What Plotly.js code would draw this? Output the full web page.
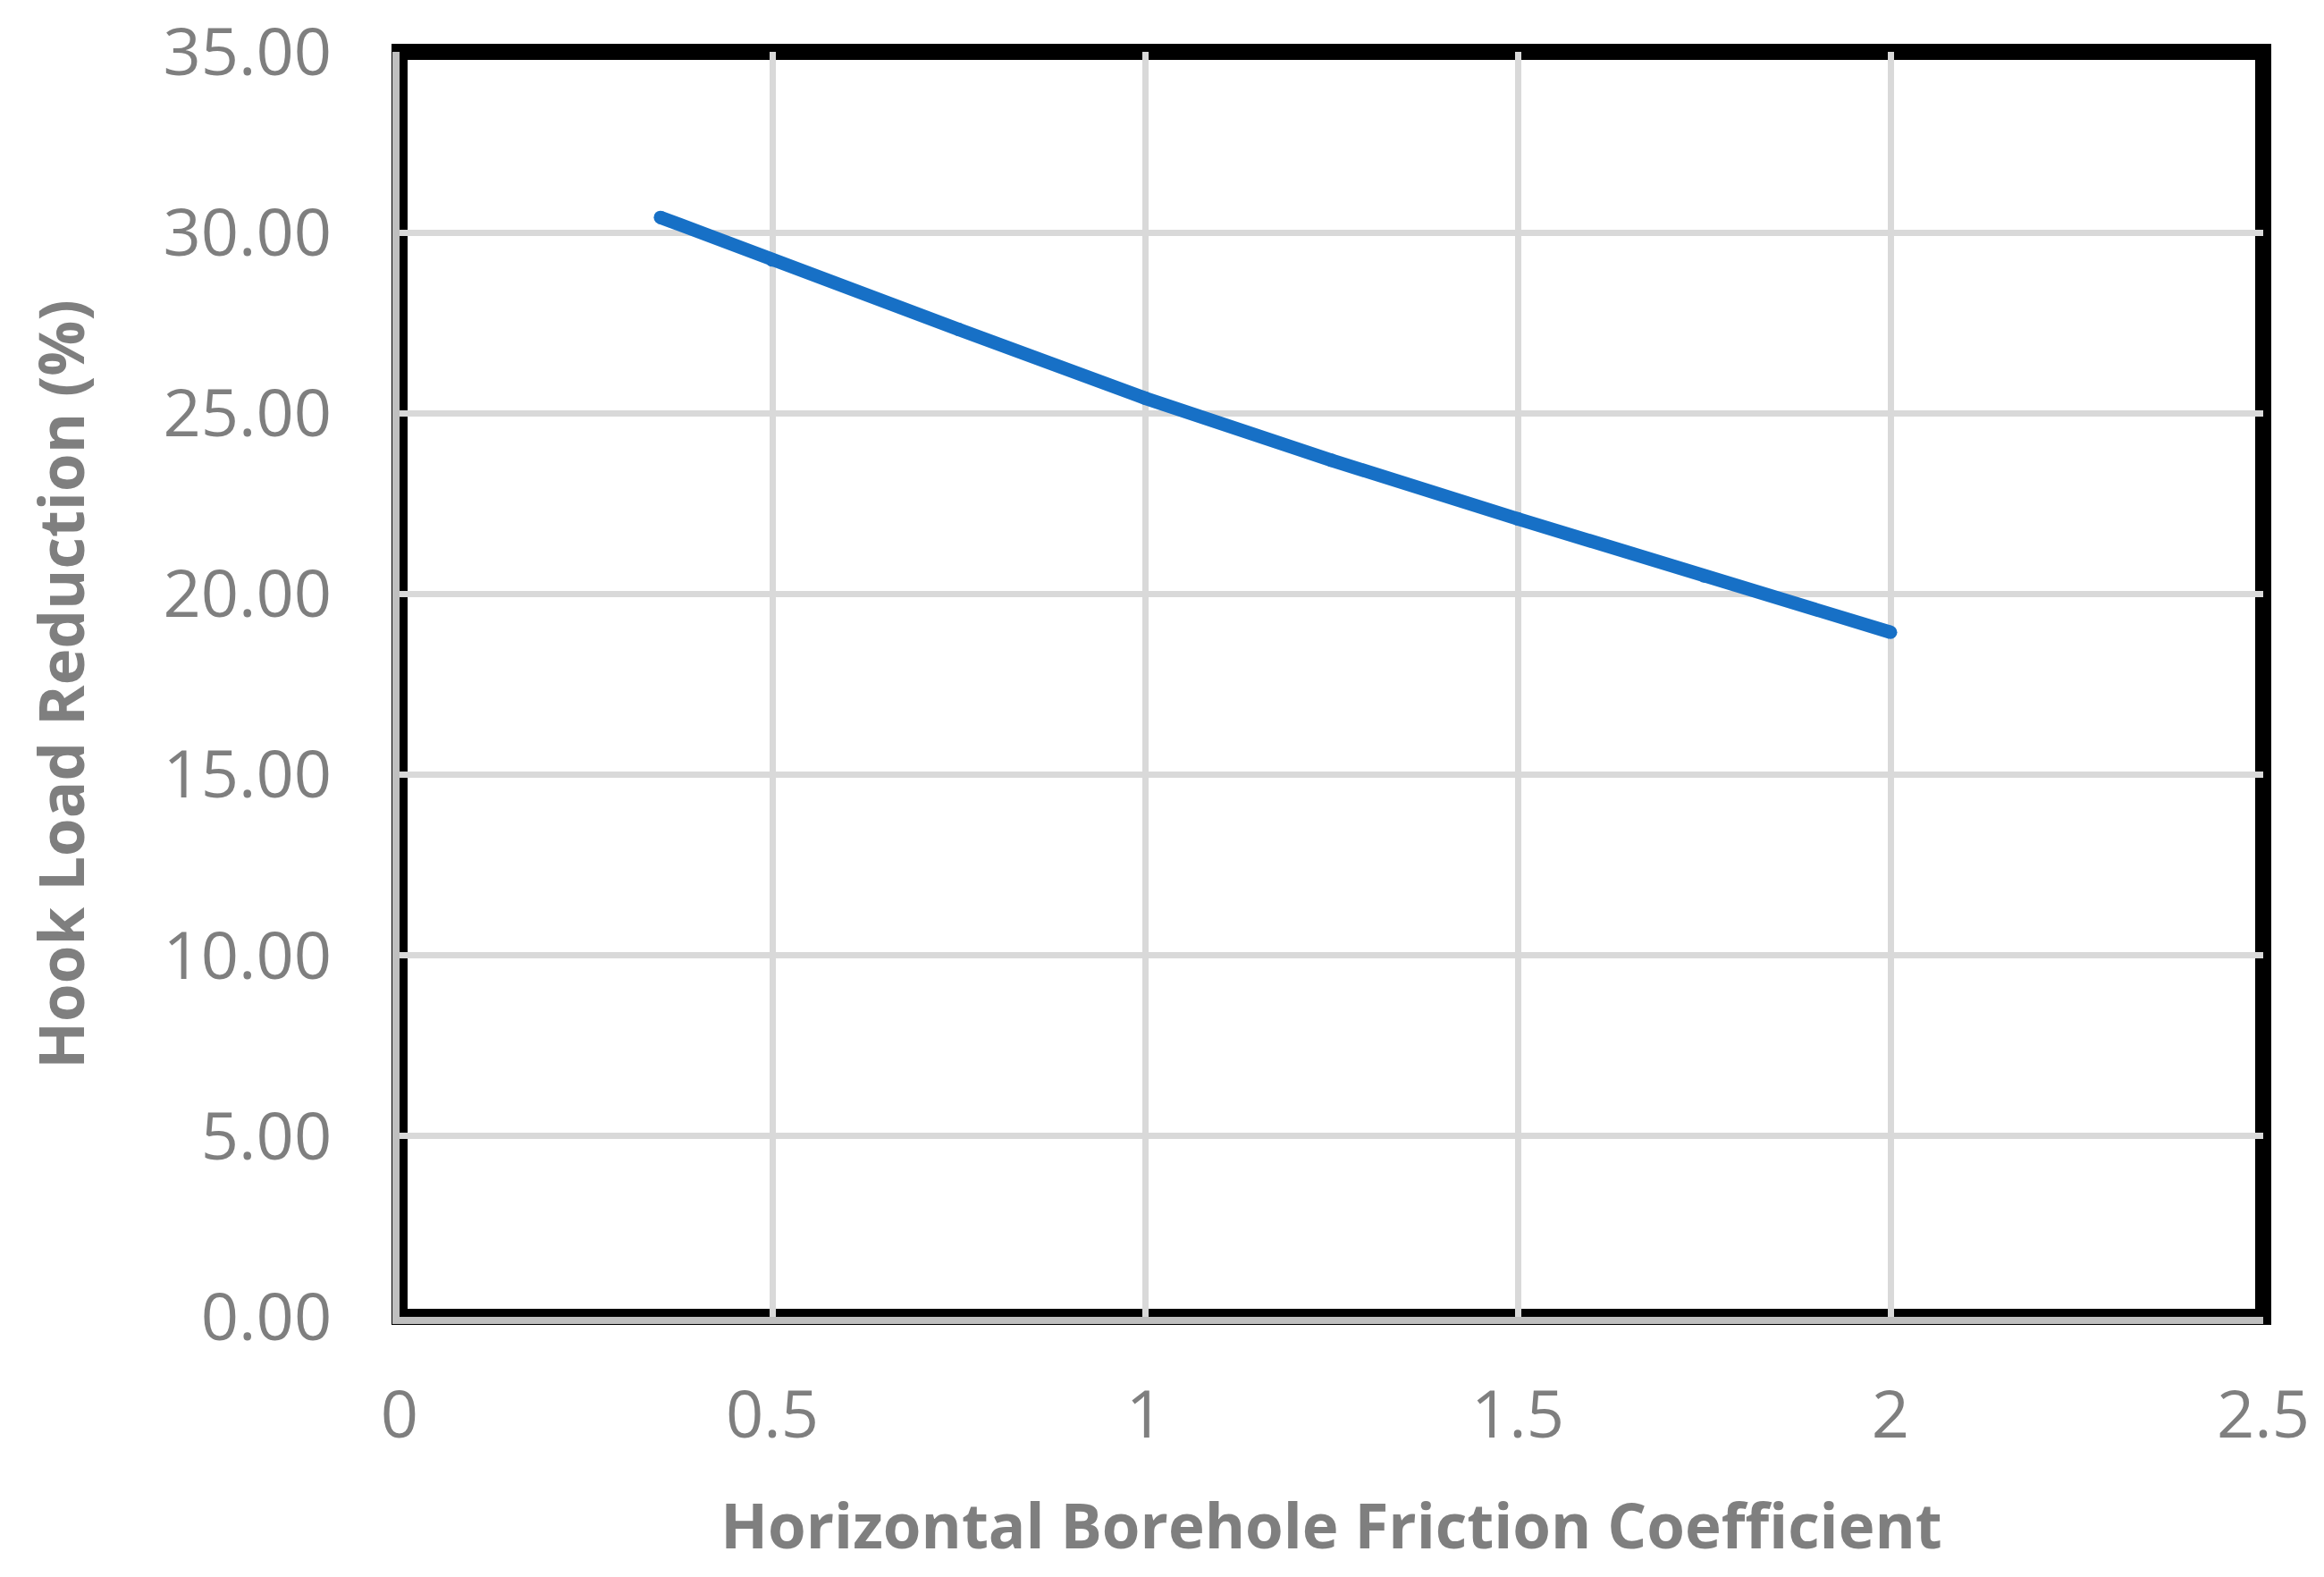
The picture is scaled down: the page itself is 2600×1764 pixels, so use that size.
<!DOCTYPE html>
<html>
<head>
<meta charset="utf-8">
<script src="https://cdn.plot.ly/plotly-3.0.1.min.js"></script>
<style>
  html, body { margin: 0; padding: 0; background: #fff; }
  #chart { width: 2600px; height: 1764px; }
</style>
</head>
<body>
<div id="chart"></div>
<script>
// friction coefficient vs hook load reduction
const frictionCoef = [0.35, 0.5, 0.75, 1.0, 1.25, 1.5, 1.75, 2.0];
const hookLoadReduction = [30.42, 29.24, 27.32, 25.42, 23.70, 22.08, 20.50, 18.94];

const xTickVals = [0, 0.5, 1, 1.5, 2, 2.5];
const xTickText = ['0', '0.5', '1', '1.5', '2', '2.5'];
const yTickVals = [0, 5, 10, 15, 20, 25, 30, 35];

const GREY_TEXT = '#7F7F7F';
const GRID = '#D9D9D9';
const LINE_BLUE = '#1770C6';

const trace = {
  x: frictionCoef,
  y: hookLoadReduction,
  type: 'scatter',
  mode: 'lines+markers',
  line: {color: LINE_BLUE, width: 15},
  marker: {color: LINE_BLUE, size: 15},
  hoverinfo: 'x+y',
  showlegend: false,
};

const tickFont = {family: 'Open Sans, sans-serif', size: 74, color: GREY_TEXT};
const titleFont = {family: 'Open Sans, sans-serif', size: 69, color: GREY_TEXT, weight: 'bold'};

const layout = {
  width: 2600,
  height: 1764,
  margin: {l: 447, r: 68, t: 58, b: 291},
  paper_bgcolor: '#ffffff',
  plot_bgcolor: '#ffffff',
  showlegend: false,
  xaxis: {
    range: [0, 2.5],
    tickvals: xTickVals,
    ticktext: xTickText,
    showgrid: true,
    gridcolor: GRID,
    gridwidth: 7,
    zeroline: false,
    showline: true,
    linecolor: '#BFBFBF',
    linewidth: 8,
    ticks: '',
    ticklabelstandoff: 38,
    tickfont: tickFont,
    automargin: false,
    title: {text: 'Horizontal Borehole Friction Coefficient', font: titleFont, standoff: 58},
  },
  yaxis: {
    range: [0, 35],
    tickvals: yTickVals,
    tickformat: '.2f',
    showgrid: true,
    gridcolor: GRID,
    gridwidth: 7,
    zeroline: false,
    showline: true,
    linecolor: '#BFBFBF',
    linewidth: 8,
    ticks: '',
    ticklabelstandoff: 53,
    tickfont: tickFont,
    automargin: false,
    title: {text: 'Hook Load Reduction (%)', font: titleFont, standoff: 68},
  },
  shapes: [{
    type: 'rect',
    xref: 'paper', yref: 'paper',
    x0: 0, x1: 1, y0: 0, y1: 1,
    line: {color: '#000000', width: 18},
    layer: 'between',
  }],
};

Plotly.newPlot('chart', [trace], layout, {displayModeBar: false, staticPlot: true});
</script>
</body>
</html>
